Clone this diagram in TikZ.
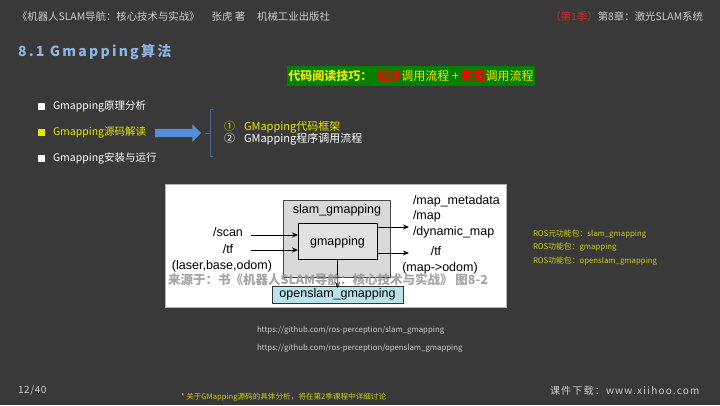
\documentclass[tikz,border=0pt]{standalone}
\usepackage{fontspec}
\setmainfont{Noto Sans CJK SC}
\newfontfamily\arialf{Liberation Sans}
\newfontfamily\spacedf[LetterSpace=6]{Noto Sans CJK SC}
\newfontfamily\spacedt[LetterSpace=16]{Noto Sans CJK SC}
\newfontfamily\spacedfb[LetterSpace=12]{Noto Sans CJK SC}
\usetikzlibrary{arrows.meta,shapes.arrows}
\definecolor{bgc}{RGB}{57,57,57}
\definecolor{hdr}{RGB}{205,205,205}
\definecolor{ttl}{RGB}{141,180,226}
\definecolor{ylw}{RGB}{232,232,0}
\definecolor{ylw2}{RGB}{205,205,20}
\definecolor{grn}{RGB}{0,128,0}
\definecolor{rd}{RGB}{255,0,0}
\definecolor{hred}{RGB}{225,35,35}
\definecolor{barrow}{RGB}{85,142,213}
\definecolor{brc}{RGB}{70,105,150}
\definecolor{boxg}{RGB}{217,217,217}
\definecolor{boxi}{RGB}{226,226,226}
\definecolor{cyanb}{RGB}{183,228,232}
\definecolor{capg}{RGB}{150,150,150}
\begin{document}
\begin{tikzpicture}[x=1pt,y=-1pt,
  every node/.style={inner sep=0pt,outer sep=0pt},
  bsq/.style={rectangle,minimum size=7pt,fill=#1},
  txt/.style={anchor=west,font=\fontsize{#1}{#1}\selectfont},
  dlab/.style={font=\arialf\fontsize{12.5}{13}\selectfont,text=black,text height=9pt,text depth=2.5pt},
  dbox/.style={rectangle,draw=#1,line width=0.8pt},
  darr/.style={-{Stealth[length=6pt,width=5pt]},line width=1pt,black}]
\fill[bgc] (0,0) rectangle (720,405);
\useasboundingbox (0,0) rectangle (720,405);

% header
\node[txt=10.4,text=hdr] (h1) at (17,17) {《机器人SLAM导航：核心技术与实战》\hspace{12pt}张虎 著\hspace{12pt}机械工业出版社};
\node[anchor=east,font=\fontsize{10.4}{10.4}\selectfont,text=hdr] (h2) at (703,17) {\textcolor{hred}{（第1季）}第8章：激光SLAM系统};

% title
\node[anchor=west,text=ttl,font=\spacedt\bfseries\fontsize{14}{14}\selectfont] (title) at (18,52) {8.1 Gmapping算法};

% green tip box
\node[fill=grn,minimum width=248pt,minimum height=20pt,font=\fontsize{12}{12}\selectfont,text=ylw] (tip) at (411,76)
  {\textbf{代码阅读技巧：}\hspace{5pt}\textbf{\textcolor{rd}{程序}}调用流程 + \textbf{\textcolor{rd}{数据}}调用流程};

% bullets
\node[bsq=white] (q1) at (41,106) {};
\node[txt=10.5,text=white] (t1) at (53,106) {Gmapping原理分析};
\node[bsq=ylw] (q2) at (41,132) {};
\node[txt=10.5,text=ylw] (t2) at (53,132) {Gmapping源码解读};
\node[bsq=white] (q3) at (41,158) {};
\node[txt=10.5,text=white] (t3) at (53,158) {Gmapping安装与运行};

% blue block arrow
\node[single arrow,fill=barrow,inner xsep=0pt,inner ysep=4pt,minimum height=46pt,single arrow head extend=4.5pt,anchor=west] (ba) at (155,133) {};

% bracket
\coordinate (bt) at (213,109);
\coordinate (bb) at (213,156);
\coordinate (bm) at (210,133);
\draw[brc,line width=0.8pt] (bt) -- ++(-3,0) |- (bb);
\draw[brc,line width=0.8pt] (bm) -- ++(-5,0);

% sub items
\node[txt=11,text=ylw] (s1) at (224,127) {①\hspace{9pt}GMapping代码框架};
\node[txt=11,text=white] (s2) at (224,139) {②\hspace{9pt}GMapping程序调用流程};

% figure
\node[fill=white,draw=gray!60,line width=0.6pt,minimum width=341pt,minimum height=123pt] (fig) at (335.5,245.5) {};
\node[dbox=gray!55!black,fill=boxg,minimum width=107pt,minimum height=77pt] (outer) at (336.5,238.5) {};
\node[dlab] (slamlab) at (337,210) {slam\_gmapping};
\node[dbox=black,fill=boxi,minimum width=79pt,minimum height=36pt] (inner) at (337.5,241) {};
\node[dlab] (gml) at (337.5,242) {gmapping};
\node[dbox=gray!40!black,fill=cyanb,minimum width=131pt,minimum height=17pt] (open) at (337.5,294.5) {};
\node[dlab] (openl) at (337.5,294.5) {openslam\_gmapping};

\node[dlab] (scan) at (228,233) {/scan};
\node[dlab] (tfin) at (228,250) {/tf};
\node[dlab] (lbo) at (222,266) {(laser,base,odom)};
\coordinate (scanS) at (251,235);
\coordinate (tfS) at (251,250);
\draw[darr] (scanS) -- (scanS -| inner.west);
\draw[darr] (tfS) -- (tfS -| inner.west);

\node[dlab,anchor=west] (mm) at (413,201) {/map\_metadata};
\node[dlab,anchor=west] (mp) at (413,216) {/map};
\node[dlab,anchor=west] (dm) at (413,232) {/dynamic\_map};
\node[dlab] (tfout) at (436,252) {/tf};
\node[dlab] (mo) at (440,268) {(map->odom)};
\coordinate (o1) at (409,227);
\coordinate (o2) at (409,253);
\draw[darr] (o1 -| inner.east) -- (o1);
\draw[darr] (o2 -| inner.east) -- (o2);
\draw[darr] (inner.south) -- ([yshift=-2pt]open.north);

\node[font=\bfseries\fontsize{12.5}{13}\selectfont,text=capg,opacity=0.85,text height=8pt,text depth=1.5pt] (cap) at (328,281.5) {来源于：书《机器人SLAM导航：核心技术与实战》 图8-2};

% ROS labels
\node[txt=7.8,text=ylw2] (r1) at (533,234) {ROS元功能包：slam\_gmapping};
\node[txt=7.8,text=ylw2] (r2) at (533,247) {ROS功能包：gmapping};
\node[txt=7.8,text=ylw2] (r3) at (533,261) {ROS功能包：openslam\_gmapping};

% urls
\node[txt=7.8,text=hdr] (u1) at (257,330) {https://github.com/ros-perception/slam\_gmapping};
\node[txt=7.8,text=hdr] (u2) at (257,348) {https://github.com/ros-perception/openslam\_gmapping};

% footer
\node[txt=7.6,text=ylw2] (fn) at (181,397) {* 关于GMapping源码的具体分析，将在第2季课程中详细讨论};
\node[anchor=west,text=hdr,font=\spacedfb\fontsize{10}{10}\selectfont] (dl) at (550,391) {课件下载：www.xiihoo.com};
\node[anchor=west,text=hdr,font=\spacedf\fontsize{10}{10}\selectfont] (pg) at (18,390) {12/40};
\end{tikzpicture}
\end{document}
